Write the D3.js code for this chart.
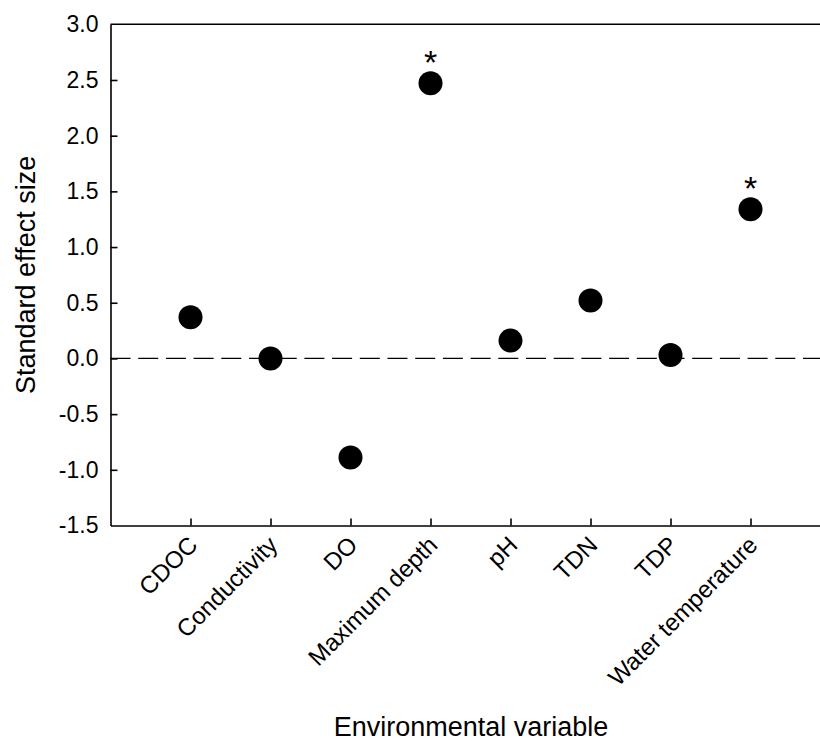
<!DOCTYPE html>
<meta charset="utf-8">
<style>
body { margin: 0; background: #fff; }
svg { display: block; font-family: "Liberation Sans", Arial, sans-serif; }
.axis path, .axis line { stroke: #000; stroke-width: 1.6px; }
.axis text { fill: #000; font-size: 23px; font-family: "Liberation Sans", Arial, sans-serif; }
.x.axis text { font-size: 24px; }
.zero { stroke: #000; stroke-width: 1.3px; stroke-dasharray: 20 7.7; }
</style>
<svg width="820" height="741"></svg>
<script src="https://d3js.org/d3.v7.min.js"></script>
<script>

var variables = ["CDOC", "Conductivity", "DO", "Maximum depth", "pH", "TDN", "TDP", "Water temperature"];
var effectSize = [0.37, 0.00, -0.89, 2.47, 0.16, 0.52, 0.03, 1.34];
var significant = [false, false, false, true, false, false, false, true];
var yTicks = [-1.5, -1.0, -0.5, 0.0, 0.5, 1.0, 1.5, 2.0, 2.5, 3.0];

var svg = d3.select("svg"),
    margin = {top: 24.3, left: 110.5},
    width = 720,
    height = 501.2,
    g = svg.append("g").attr("transform", "translate(" + margin.left + "," + margin.top + ")");

var x = d3.scalePoint().domain(variables).range([0, width]).padding(1),
    y = d3.scaleLinear().domain([-1.5, 3.0]).range([height, 0]);

var data = variables.map(function(v, i) {
  return {name: v, value: effectSize[i], sig: significant[i]};
});

// zero reference line
g.append("line")
    .attr("class", "zero")
    .attr("x1", 0).attr("x2", width)
    .attr("y1", y(0)).attr("y2", y(0));

// top border
g.append("line")
    .attr("x1", 0).attr("x2", width)
    .attr("y1", 0).attr("y2", 0)
    .style("stroke", "#000").style("stroke-width", "1.6px");

// y axis, ticks pointing inward
var yAxis = g.append("g")
    .attr("class", "y axis")
    .call(d3.axisLeft(y).tickValues(yTicks)
      .tickFormat(function(d) { return d.toFixed(1); })
      .tickSize(-7).tickSizeOuter(0));
yAxis.selectAll("text").attr("x", -12);
yAxis.select(".tick:last-of-type line").remove();
yAxis.select(".tick:first-of-type line").remove();

// x axis, ticks pointing up
var xAxis = g.append("g")
    .attr("class", "x axis")
    .attr("transform", "translate(0," + height + ")")
    .call(d3.axisBottom(x).tickSize(-7).tickSizeOuter(0));
xAxis.selectAll("text")
    .attr("text-anchor", "end")
    .attr("transform", "translate(8,21) rotate(-45)")
    .attr("y", 0).attr("dy", 0);

// points
g.selectAll(".dot")
    .data(data)
  .enter().append("circle")
    .attr("class", "dot")
    .attr("cx", function(d) { return x(d.name); })
    .attr("cy", function(d) { return y(d.value); })
    .attr("r", 12)
    .style("fill", "#000");

// significance stars
g.selectAll(".star")
    .data(data.filter(function(d) { return d.sig; }))
  .enter().append("text")
    .attr("class", "star")
    .attr("x", function(d) { return x(d.name); })
    .attr("y", function(d) { return y(d.value) - 9; })
    .attr("text-anchor", "middle")
    .style("font-size", "34px")
    .text("*");

// axis titles
svg.append("text")
    .attr("transform", "translate(35," + (margin.top + y(0.75)) + ") rotate(-90)")
    .attr("text-anchor", "middle")
    .style("font-size", "27px")
    .text("Standard effect size");

svg.append("text")
    .attr("x", 471)
    .attr("y", 736)
    .attr("text-anchor", "middle")
    .style("font-size", "27px")
    .text("Environmental variable");

</script>
